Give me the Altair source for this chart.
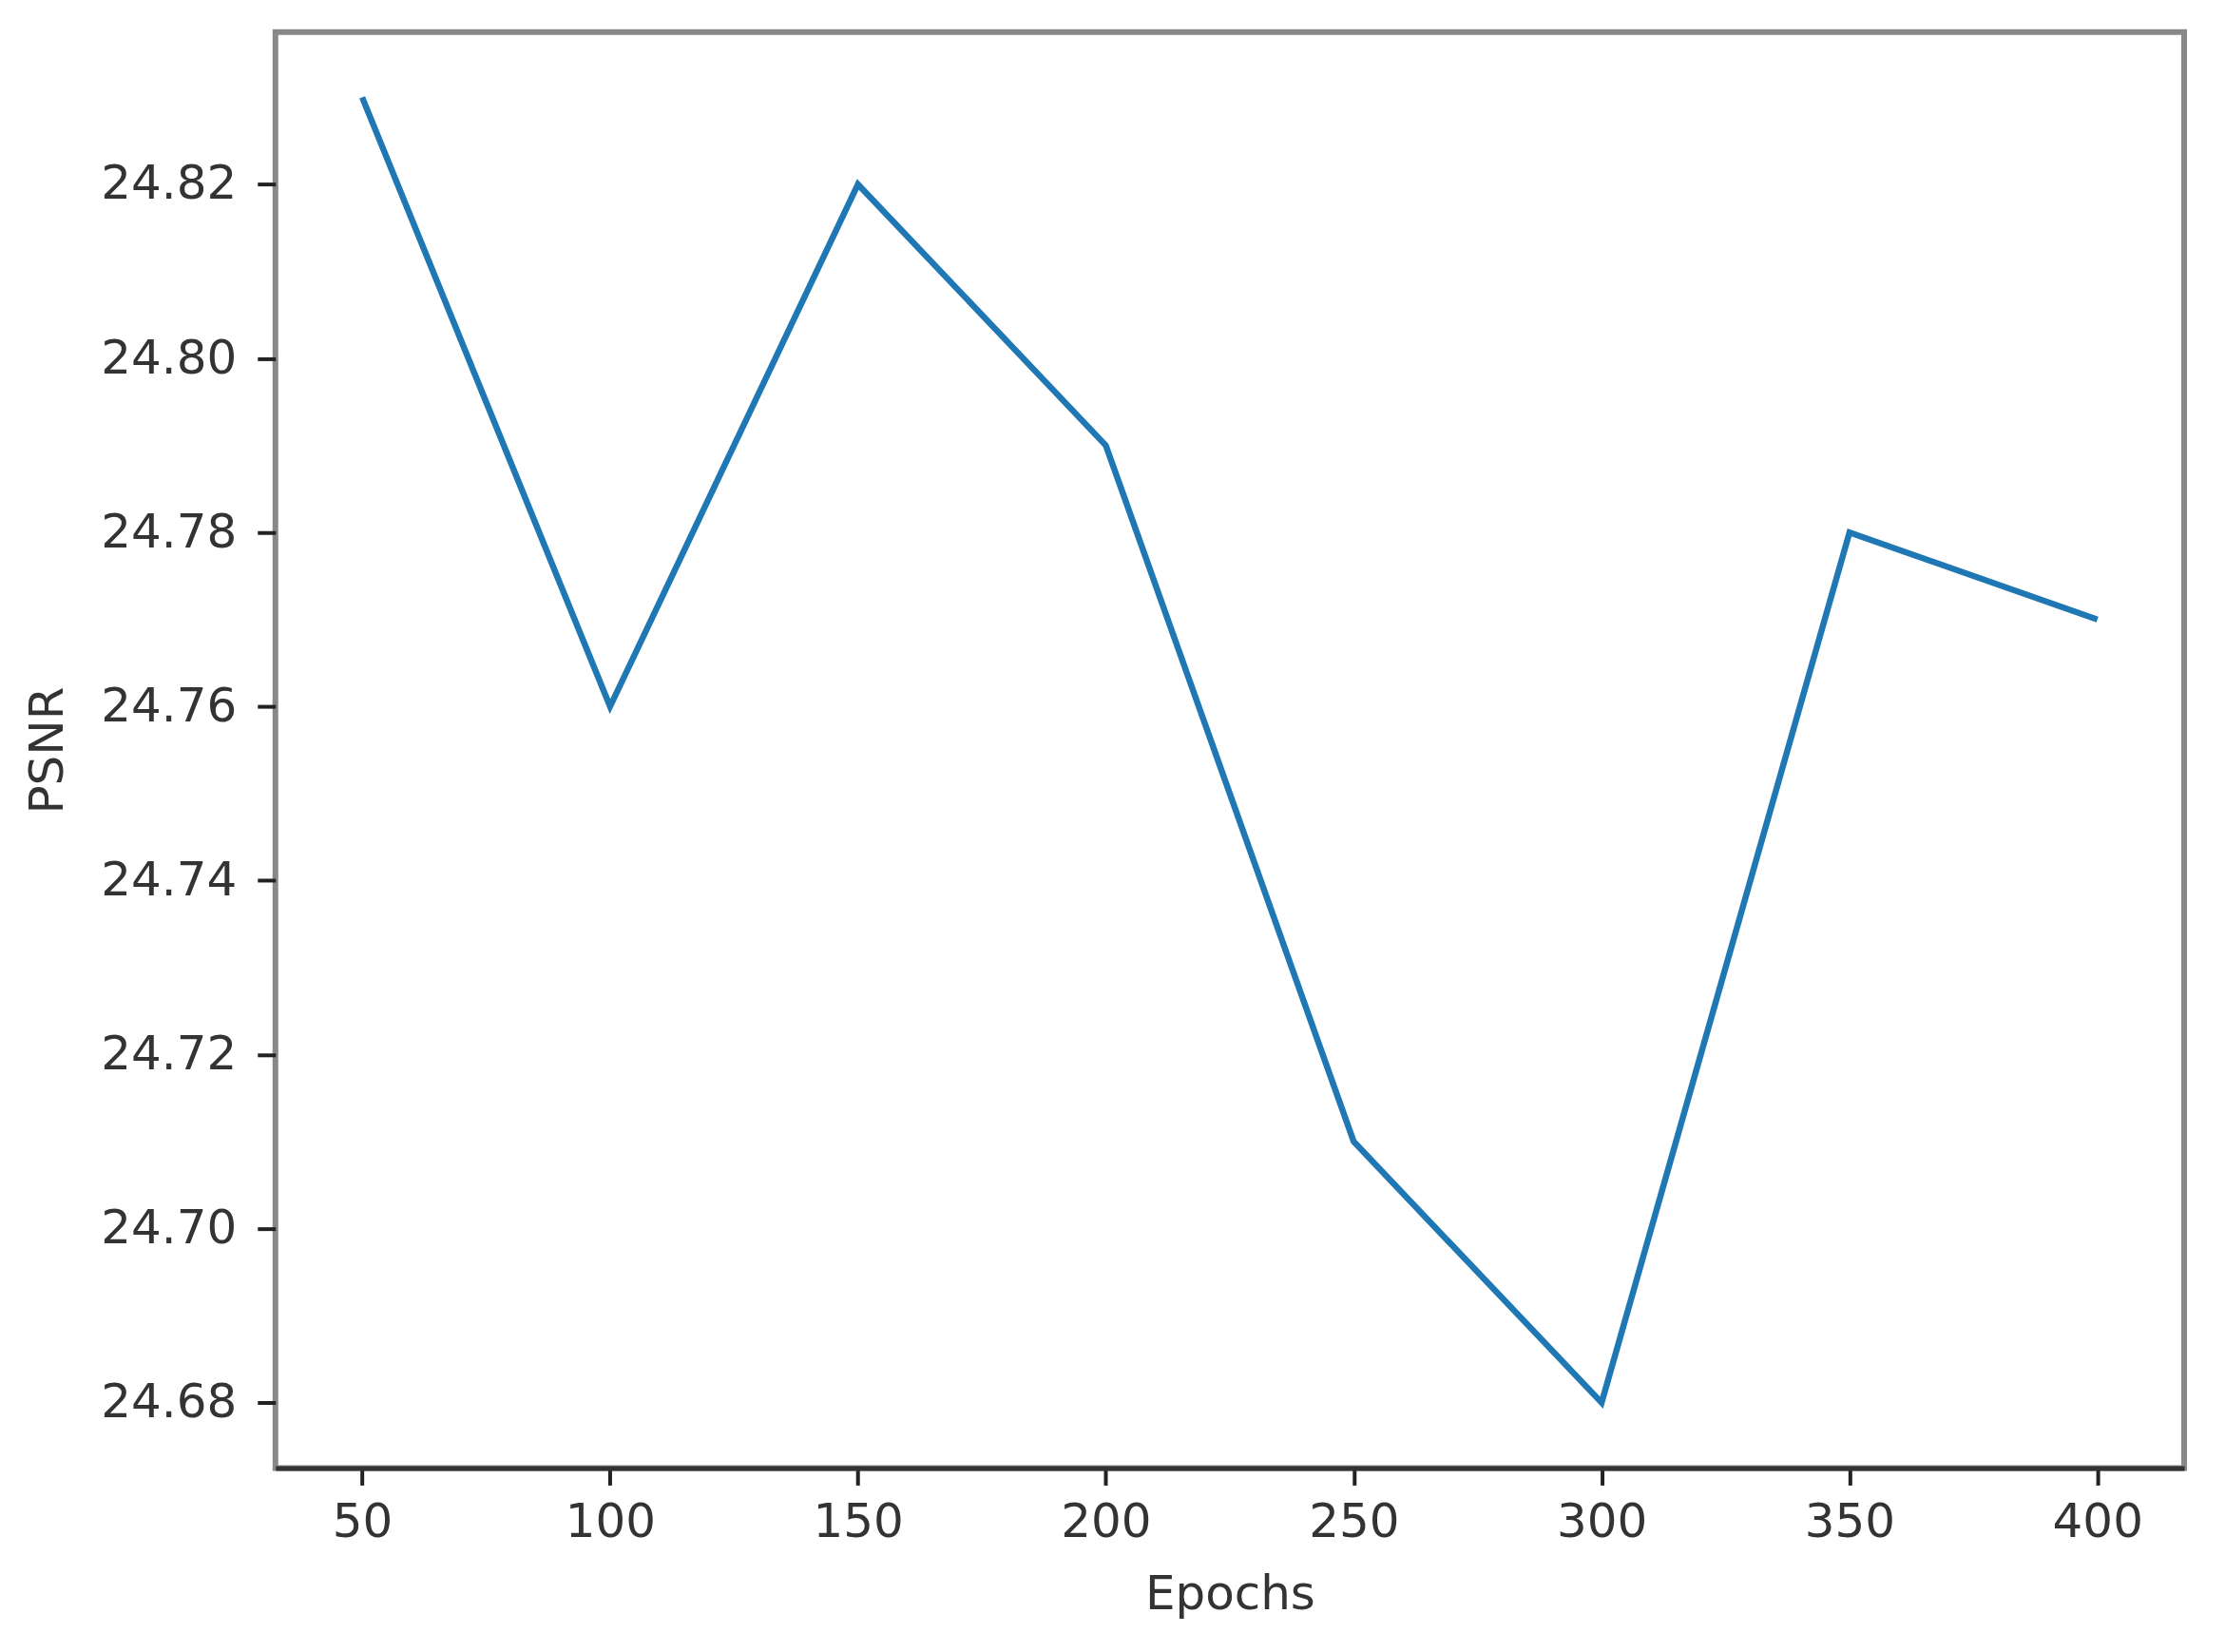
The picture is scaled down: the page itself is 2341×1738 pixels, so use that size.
import altair as alt
import pandas as pd

epochs = [50, 100, 150, 200, 250, 300, 350, 400]
psnr = [24.83, 24.76, 24.82, 24.79, 24.71, 24.68, 24.78, 24.77]
x_ticks = [50, 100, 150, 200, 250, 300, 350, 400]
y_ticks = [24.68, 24.70, 24.72, 24.74, 24.76, 24.78, 24.80, 24.82]

df = pd.DataFrame({"Epochs": epochs, "PSNR": psnr})

font = "DejaVu Sans"

chart = (
    alt.Chart(df)
    .mark_line(color="#1f77b4", strokeWidth=6.5)
    .encode(
        x=alt.X(
            "Epochs:Q",
            scale=alt.Scale(domain=[32.5, 417.5], nice=False, zero=False),
            axis=alt.Axis(
                values=x_ticks,
                format="d",
                title="Epochs",
                grid=False,
                domain=True,
                domainColor="#333333",
                domainWidth=5,
                tickColor="#222222",
                tickWidth=4,
                tickSize=18,
                labelPadding=14,
                titlePadding=26,
            ),
        ),
        y=alt.Y(
            "PSNR:Q",
            scale=alt.Scale(domain=[24.6725, 24.8375], nice=False, zero=False),
            axis=alt.Axis(
                values=y_ticks,
                format=".2f",
                title="PSNR",
                grid=False,
                domain=False,
                tickColor="#222222",
                tickWidth=4,
                tickSize=19,
                labelPadding=22,
                titlePadding=30,
            ),
        ),
    )
    .properties(
        width=2010,
        height=1512,
        autosize=alt.AutoSizeParams(type="none"),
        padding={"left": 282, "top": 25, "right": 35, "bottom": 180},
        background="white",
    )
    .configure_view(stroke="#888888", strokeWidth=6)
    .configure_axis(
        labelFont=font,
        labelFontSize=50,
        labelColor="#333333",
        titleFont=font,
        titleFontSize=50,
        titleFontWeight="normal",
        titleColor="#333333",
    )
)

chart.save("out.html", embed_options={"renderer": "svg", "actions": False})
